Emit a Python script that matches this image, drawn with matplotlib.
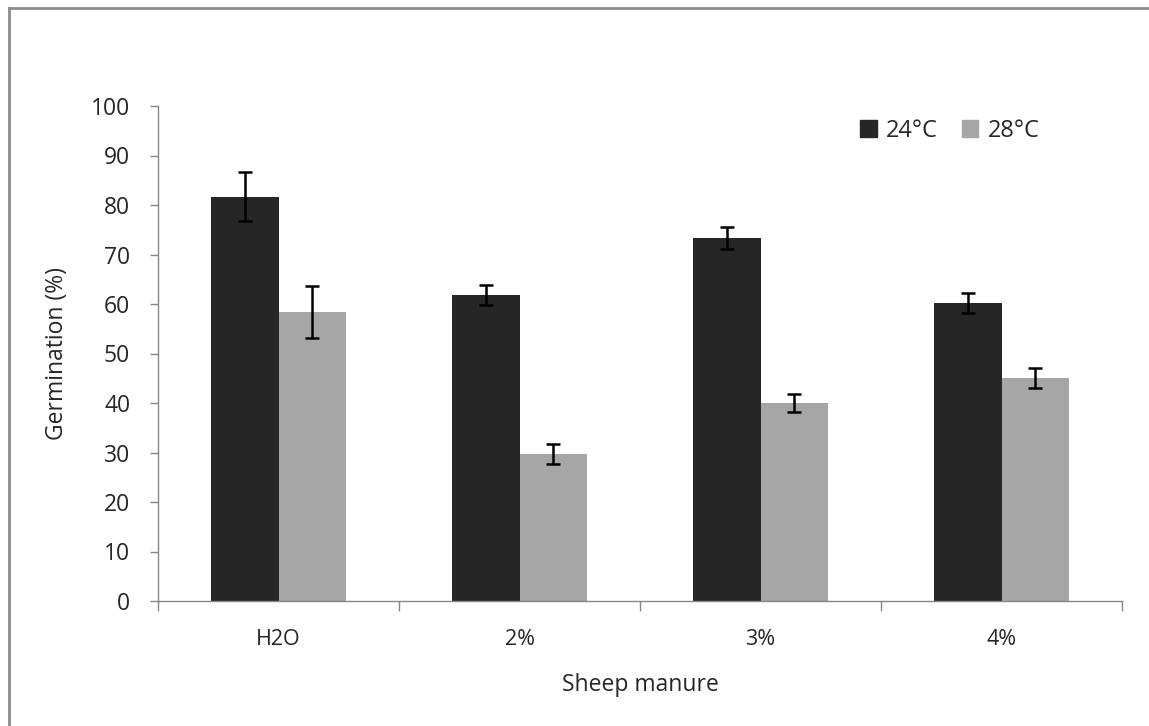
import matplotlib
matplotlib.use("Agg")
import matplotlib.pyplot as plt
import numpy as np
from matplotlib.lines import Line2D
from matplotlib.patches import Patch

plt.rcParams['font.family'] = ['Open Sans', 'DejaVu Sans']

categories = ["H2O", "2%", "3%", "4%"]
series_names = ["24°C", "28°C"]
vals_24 = [81.7, 61.8, 73.3, 60.2]
err_24 = [5.0, 2.0, 2.2, 2.0]
vals_28 = [58.4, 29.7, 40.0, 45.1]
err_28 = [5.2, 2.0, 1.9, 2.0]

dark = "#262626"
light = "#a6a6a6"
axis_gray = "#868686"
text_col = "#262626"

fig = plt.figure(figsize=(11.49, 7.26), dpi=100)
W, H = 1149, 726
ax = fig.add_axes([158 / W, (H - 601) / H, (1122 - 158) / W, (601 - 106) / H])

x = np.arange(len(categories))
bw = 0.282
ekw = dict(elinewidth=1.8, capthick=1.8, ecolor="black")
ax.bar(x - bw / 2, vals_24, bw, color=dark, yerr=err_24, capsize=5, error_kw=ekw, zorder=2)
ax.bar(x + bw / 2, vals_28, bw, color=light, yerr=err_28, capsize=5, error_kw=ekw, zorder=2)

ax.set_xlim(-0.5, len(categories) - 0.5)
ax.set_ylim(0, 100)
ax.set_yticks(np.arange(0, 101, 10))
ax.set_xticks(x)
ax.set_xticklabels(categories)
ax.set_xticks(np.arange(-0.5, len(categories), 1.0), minor=True)
ax.tick_params(axis='x', which='major', length=0, pad=20, labelsize=15.5, labelcolor=text_col)
ax.tick_params(axis='x', which='minor', length=7, width=1, color=axis_gray, direction='out')
ax.tick_params(axis='y', length=6, width=1, color=axis_gray, direction='out', pad=14,
               labelsize=16.5, labelcolor=text_col)

for s in ["top", "right"]:
    ax.spines[s].set_visible(False)
for s in ["left", "bottom"]:
    ax.spines[s].set_color(axis_gray)
    ax.spines[s].set_linewidth(1)

ax.set_xlabel("Sheep manure", fontsize=16.5, color=text_col, labelpad=17)
ax.set_ylabel("Germination (%)", fontsize=16.5, color=text_col, labelpad=16)

handles = [Patch(facecolor=dark, edgecolor=dark), Patch(facecolor=light, edgecolor=light)]
ax.legend(handles, series_names, loc='upper left', bbox_to_anchor=(0.709, 1.012), ncol=2,
          frameon=False, fontsize=17, handlelength=0.7, handleheight=0.7,
          handletextpad=0.4, columnspacing=1.0, labelcolor=text_col, borderpad=0.3)

# outer frame (left and top visible)
fig.add_artist(Line2D([9 / W, 9 / W], [0, 1 - 8 / H], color="#8c8c8c", lw=2, transform=fig.transFigure))
fig.add_artist(Line2D([9 / W, 1], [1 - 8 / H, 1 - 8 / H], color="#8c8c8c", lw=2, transform=fig.transFigure))

fig.savefig("out.png", dpi=100)
